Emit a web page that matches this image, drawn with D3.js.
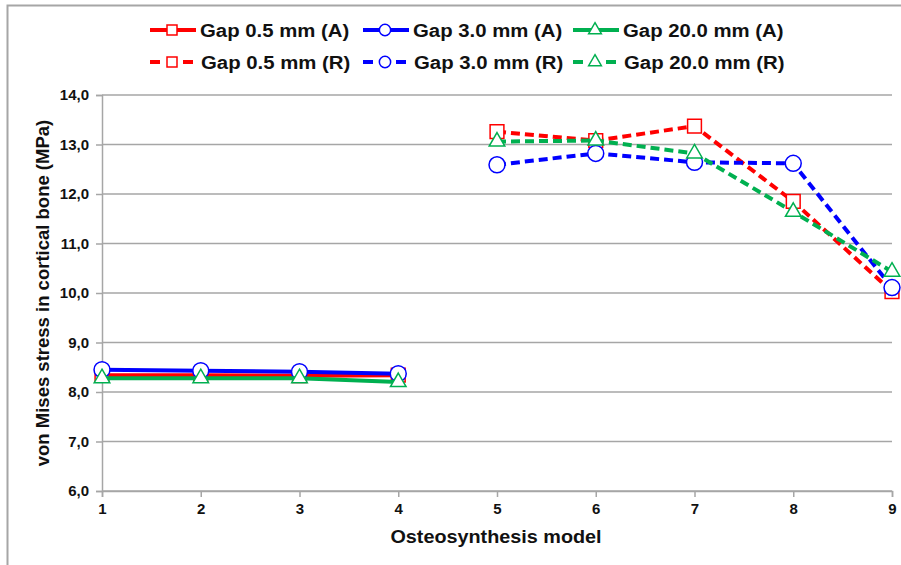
<!DOCTYPE html>
<html>
<head>
<meta charset="utf-8">
<script src="https://cdn.jsdelivr.net/npm/d3@7"></script>
<style>
  body { margin: 0; background: #fff; }
  text { font-family: "Liberation Sans", Arial, sans-serif; font-weight: bold; fill: #111; }
</style>
</head>
<body>
<div id="showBox"></div>
<script>
// osteosynthesis models on the x axis
const models = [1, 2, 3, 4, 5, 6, 7, 8, 9];
const modelsA = [1, 2, 3, 4];
const modelsR = [5, 6, 7, 8, 9];
const yTicks = [6, 7, 8, 9, 10, 11, 12, 13, 14];

// von Mises stress (MPa)
const gap05A = [8.34, 8.34, 8.33, 8.34];
const gap30A = [8.45, 8.43, 8.41, 8.37];
const gap200A = [8.28, 8.28, 8.28, 8.20];
const gap05R = [13.26, 13.08, 13.37, 11.85, 10.03];
const gap30R = [12.59, 12.82, 12.64, 12.62, 10.11];
const gap200R = [13.06, 13.08, 12.82, 11.64, 10.43];

const seriesNames = ["Gap 0.5 mm (A)", "Gap 3.0 mm (A)", "Gap 20.0 mm (A)",
                     "Gap 0.5 mm (R)", "Gap 3.0 mm (R)", "Gap 20.0 mm (R)"];

const red = "#ff0000", blue = "#0000ff", green = "#00b050";

const series = [
  {name: seriesNames[0], xs: modelsA, ys: gap05A, color: red, sym: d3.symbolSquare, size: 190, dash: null},
  {name: seriesNames[1], xs: modelsA, ys: gap30A, color: blue, sym: d3.symbolCircle, size: 200, dash: null},
  {name: seriesNames[2], xs: modelsA, ys: gap200A, color: green, sym: d3.symbolTriangle, size: 105, dash: null},
  {name: seriesNames[3], xs: modelsR, ys: gap05R, color: red, sym: d3.symbolSquare, size: 190, dash: "9,5"},
  {name: seriesNames[4], xs: modelsR, ys: gap30R, color: blue, sym: d3.symbolCircle, size: 200, dash: "9,5"},
  {name: seriesNames[5], xs: modelsR, ys: gap200R, color: green, sym: d3.symbolTriangle, size: 105, dash: "9,5"}
];

const width = 901, height = 565;
const plotLeft = 102, plotRight = 892, plotTop = 95, plotBottom = 491;
const stretch = 1.1;

const svg = d3.select("#showBox").append("svg")
  .attr("width", width).attr("height", height);

// outer frame
svg.append("path")
  .attr("d", `M7.5,${height + 5} V5.5 H${width + 5}`)
  .attr("fill", "none").attr("stroke", "#a6a6a6").attr("stroke-width", 2);

const x = d3.scaleLinear().domain([1, 9]).range([plotLeft, plotRight]);
const y = d3.scaleLinear().domain([6, 14]).range([plotBottom, plotTop]);

// gridlines
svg.append("g")
  .selectAll("line")
  .data(yTicks)
  .join("line")
  .attr("x1", plotLeft).attr("x2", plotRight)
  .attr("y1", d => y(d)).attr("y2", d => y(d))
  .attr("stroke", "#a6a6a6").attr("stroke-width", 1.5);

// y axis
const yAxis = svg.append("g")
  .attr("transform", `translate(${plotLeft},0)`)
  .call(d3.axisLeft(y).tickValues(yTicks).tickSize(6).tickPadding(7)
    .tickFormat(d => d3.format(".1f")(d).replace(".", ",")));
yAxis.select(".domain").attr("stroke", "#a6a6a6").attr("stroke-width", 1.5);
yAxis.selectAll(".tick line").attr("stroke", "#a6a6a6").attr("stroke-width", 1.5);
yAxis.selectAll(".tick text").style("font-size", "15px").attr("fill", "#111")
  .attr("font-family", "Liberation Sans, Arial, sans-serif").attr("font-weight", "bold");

// x axis
const xAxis = svg.append("g")
  .attr("transform", `translate(0,${plotBottom})`)
  .call(d3.axisBottom(x).tickValues(models).tickSize(6).tickPadding(6).tickFormat(d3.format("d")));
xAxis.select(".domain").attr("stroke", "#a6a6a6").attr("stroke-width", 1.5);
xAxis.selectAll(".tick line").attr("stroke", "#a6a6a6").attr("stroke-width", 1.5);
xAxis.selectAll(".tick text").style("font-size", "15px").attr("fill", "#111")
  .attr("font-family", "Liberation Sans, Arial, sans-serif").attr("font-weight", "bold");

// axis titles
svg.append("text")
  .attr("transform", `translate(${(plotLeft + plotRight) / 2 - 1},543) scale(${stretch},1)`)
  .attr("text-anchor", "middle")
  .style("font-size", "18px")
  .text("Osteosynthesis model");

svg.append("text")
  .attr("transform", `translate(49,${(plotTop + plotBottom) / 2}) rotate(-90)`)
  .attr("text-anchor", "middle")
  .style("font-size", "18.5px")
  .text("von Mises stress in cortical bone (MPa)");

// lines and markers
const line = d3.line().x(d => x(d[0])).y(d => y(d[1]));

series.forEach(s => {
  const pts = s.xs.map((m, i) => [m, s.ys[i]]);
  svg.append("path")
    .datum(pts)
    .attr("d", line)
    .attr("fill", "none")
    .attr("stroke", s.color)
    .attr("stroke-width", 4)
    .attr("stroke-dasharray", s.dash);
  svg.append("g")
    .selectAll("path")
    .data(pts)
    .join("path")
    .attr("transform", d => `translate(${x(d[0])},${y(d[1])})`)
    .attr("d", d3.symbol().type(s.sym).size(s.size))
    .attr("fill", "#fff")
    .attr("stroke", s.color)
    .attr("stroke-width", 1.5);
});

// legend, two rows of three
const legendX = [150, 363, 573];
const legendY = [30, 62];
const legend = svg.append("g");
series.forEach((s, i) => {
  const g = legend.append("g")
    .attr("transform", `translate(${legendX[i % 3]},${legendY[Math.floor(i / 3)]})`);
  if (s.dash) {
    g.append("line").attr("x1", 0).attr("x2", 10).attr("y1", 0).attr("y2", 0)
      .attr("stroke", s.color).attr("stroke-width", 4);
    g.append("line").attr("x1", 33).attr("x2", 43).attr("y1", 0).attr("y2", 0)
      .attr("stroke", s.color).attr("stroke-width", 4);
  } else {
    g.append("line").attr("x1", 0).attr("x2", 46).attr("y1", 0).attr("y2", 0)
      .attr("stroke", s.color).attr("stroke-width", 4);
  }
  g.append("path")
    .attr("transform", "translate(22,0)")
    .attr("d", d3.symbol().type(s.sym).size(s.sym === d3.symbolTriangle ? 70 : 100))
    .attr("fill", "#fff")
    .attr("stroke", s.color)
    .attr("stroke-width", 1.5);
  g.append("text")
    .attr("transform", `translate(${s.dash ? 51 : 50},6.5) scale(${stretch},1)`)
    .style("font-size", "18.5px")
    .text(s.name);
});
</script>
</body>
</html>
